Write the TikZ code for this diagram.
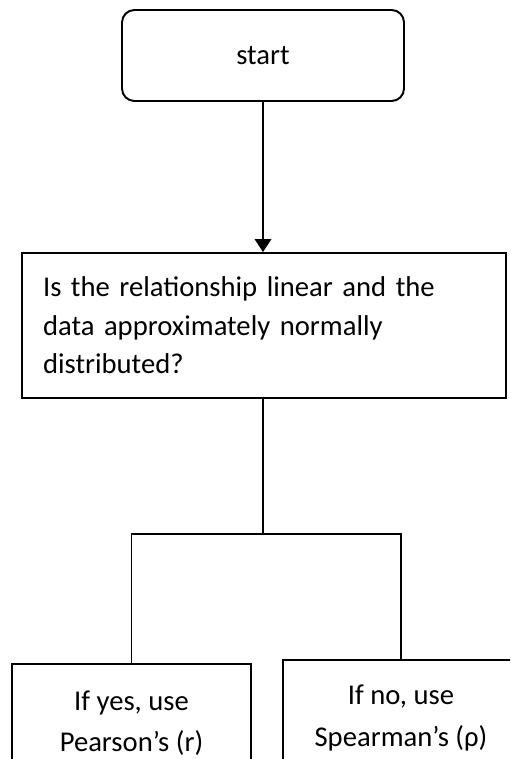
\documentclass[tikz,border=0pt]{standalone}
\usepackage{fontspec}
\setmainfont{Carlito}
\usetikzlibrary{arrows.meta}
\tikzset{
  box/.style={draw, line width=1.1pt, inner sep=0pt, align=center, font=\fontsize{16.3}{22}\selectfont},
  link/.style={draw, line width=0.75pt}
}
\begin{document}
\begin{tikzpicture}[x=0.02cm, y=-0.02cm]
\clip (0,0) rectangle (510,759);
\node[box, rounded corners=7pt, minimum width=5.64cm, minimum height=1.82cm] (start) at (263,55.5) {start};
\node[box, align=left, text width=8.84cm, minimum width=9.68cm, minimum height=2.9cm] (quest) at (264,325.5) {Is the relationship linear and the\\data approximately normally\\distributed?};
\node[box, font=\fontsize{16.3}{23}\selectfont, minimum width=4.78cm, minimum height=2.36cm] (yes) at (131.5,723) {If yes, use\\Pearson’s (r)};
\node[box, font=\fontsize{16.3}{24}\selectfont, minimum width=4.72cm, minimum height=2.32cm] (no) at (401,718) {If no, use\\Spearman’s (ρ)};
\coordinate (split) at (263,534);
\draw[link, -{Triangle[width=9.5pt,length=7.4pt]}] (start.south) -- (start.south |- quest.north);
\draw[link] (split |- quest.south) -- (split);
\draw[link] (split) -| (yes.north);
\draw[link] (split) -| (no.north);
\end{tikzpicture}
\end{document}
